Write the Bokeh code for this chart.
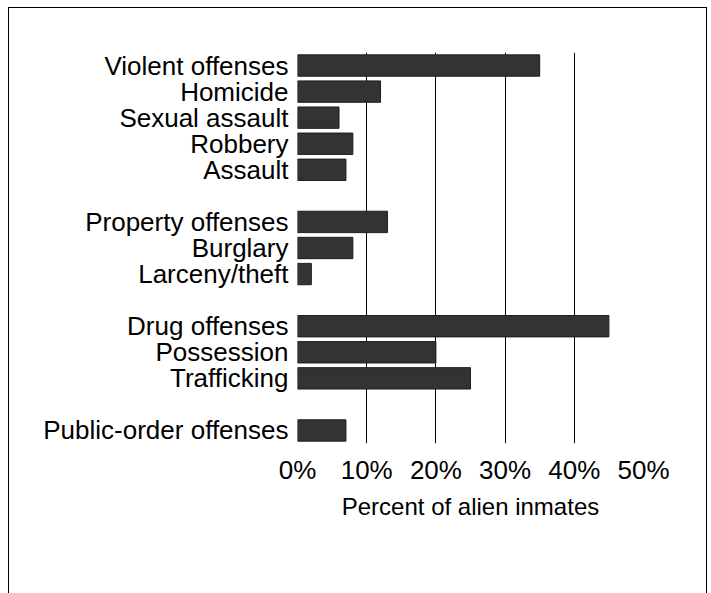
from bokeh.plotting import figure
from bokeh.models import FactorRange, Range1d, FixedTicker
from bokeh.embed import file_html
from bokeh.resources import INLINE

# ---- data ----
categories = ["Violent offenses", "Homicide", "Sexual assault", "Robbery", "Assault",
              "Property offenses", "Burglary", "Larceny/theft",
              "Drug offenses", "Possession", "Trafficking",
              "Public-order offenses"]
percent = [35, 12, 6, 8, 7, 13, 8, 2, 45, 20, 25, 7]
groups = [["Violent offenses", "Homicide", "Sexual assault", "Robbery", "Assault"],
          ["Property offenses", "Burglary", "Larceny/theft"],
          ["Drug offenses", "Possession", "Trafficking"],
          ["Public-order offenses"]]
x_ticks = [0, 10, 20, 30, 40, 50]
x_tick_labels = ["0%", "10%", "20%", "30%", "40%", "50%"]

# axis order top -> bottom with blank spacer rows between groups
order = []
for i, g in enumerate(groups):
    order.extend(g)
    if i < len(groups) - 1:
        order.append(" " * (i + 1))

FONT = "Liberation Sans"

p = figure(width=699, height=586, output_backend="svg", toolbar_location=None,
           y_range=FactorRange(factors=list(reversed(order)), range_padding=0),
           x_range=Range1d(0, 50),
           min_border_left=288, min_border_right=65,
           min_border_top=44, min_border_bottom=151)
p.styles = {"border": "1px solid #000000", "border-bottom": "none",
            "margin-left": "8px", "margin-top": "7px"}
p.background_fill_color = "white"
p.border_fill_color = "white"
p.outline_line_color = None

p.hbar(y=categories, right=percent, left=0, height=0.82,
       fill_color="#333333", line_color="#1e1e1e", line_width=1)

# x axis
p.xaxis.ticker = FixedTicker(ticks=x_ticks)
p.xaxis.major_label_overrides = {t: l for t, l in zip(x_ticks, x_tick_labels)}
p.xaxis.axis_line_color = None
p.xaxis.major_tick_line_color = None
p.xaxis.minor_tick_line_color = None
p.xaxis.major_tick_out = 0
p.xaxis.major_label_standoff = 11
p.xaxis.major_label_text_font = FONT
p.xaxis.major_label_text_font_size = "26px"
p.xaxis.major_label_text_color = "black"
p.xaxis.axis_label = "Percent of alien inmates"
p.xaxis.axis_label_text_font = FONT
p.xaxis.axis_label_text_font_size = "24px"
p.xaxis.axis_label_text_font_style = "normal"
p.xaxis.axis_label_text_color = "black"
p.xaxis.axis_label_standoff = 5

# y axis
p.yaxis.axis_line_color = None
p.yaxis.major_tick_line_color = None
p.yaxis.minor_tick_line_color = None
p.yaxis.major_tick_out = 0
p.yaxis.major_label_standoff = 9
p.yaxis.major_label_text_font = FONT
p.yaxis.major_label_text_font_size = "26px"
p.yaxis.major_label_text_color = "black"

# grid
p.xgrid.ticker = FixedTicker(ticks=x_ticks)
p.xgrid.grid_line_color = "#000000"
p.xgrid.grid_line_width = 1
p.ygrid.grid_line_color = None

open("out.html", "w").write(file_html(p, INLINE))
